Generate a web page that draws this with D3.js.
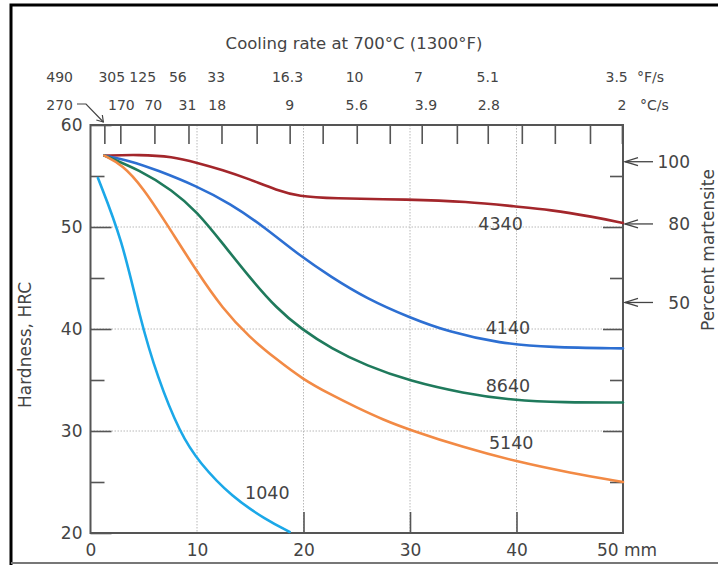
<!DOCTYPE html>
<html><head><meta charset="utf-8">
<script src="https://cdn.jsdelivr.net/npm/d3@7"></script>
<style>
html,body{margin:0;padding:0;background:#fff;}
svg text{font-family:"DejaVu Sans",sans-serif;fill:#444;}
</style></head>
<body><svg id="c" width="718" height="565"></svg>
<script>
// ---- data ----
const steels = ["4340","4140","8640","5140","1040"];
const d4340 = [[1.3,57.0],[4.6,57.1],[7.7,56.9],[10,56.3],[12.4,55.6],[14.9,54.7],[17.5,53.6],[19.6,53.0],[22.5,52.8],[30,52.7],[35.3,52.5],[40,52.0],[43.1,51.7],[47.2,51.0],[50,50.4]];
const d4140 = [[1.3,57.0],[3.7,56.5],[6.2,55.6],[10,54.0],[13.1,52.3],[16.2,50.1],[19.5,47.3],[22.6,45.1],[25.9,43.0],[30,41.1],[33.7,39.7],[38.4,38.6],[43.1,38.2],[50,38.1]];
const d8640 = [[1.3,57.0],[4.6,55.6],[7.7,53.6],[10,51.5],[12.4,48.4],[14.9,45.1],[17.5,42.0],[19.8,40.0],[22.6,38.1],[25.9,36.4],[30,34.9],[35,33.7],[39.7,33.0],[44.4,32.8],[50,32.8]];
const d5140 = [[1.3,57.0],[3.0,56.1],[4.9,53.9],[7.1,50.4],[10,45.6],[12.4,42.0],[14.9,39.2],[17.5,37.0],[19.9,35.1],[22.5,33.6],[25,32.3],[27.5,31.1],[30,30.1],[35,28.4],[40,27.0],[45,25.9],[50,25.0]];
const d1040 = [[0.7,54.8],[3.0,48.7],[4.6,41.2],[6.3,35.2],[8.4,29.8],[10.2,26.9],[13.3,23.5],[16.5,21.3],[18.7,20.1]];
const seriesData = [d4340,d4140,d8640,d5140,d1040];
const seriesColors = ["#a3262b","#2d6fd2","#1f7a5c","#f28a45","#1ba8e8"];
// label anchor points (mm, HRC)
const labelAt = [[38.5,49.7],[39.2,39.5],[39.2,33.8],[39.5,28.2],[16.6,23.3]];

const xTicks = [0,10,20,30,40];
const yTicks = [20,30,40,50,60];
const yMinor = [25,35,45,55];
const gridX = [10,20,30,40];
const gridY = [30,40,50];
const bottomTicks = [20,30,40];

// Jominy-position ticks (mm) on top edge
const jominyTicks = [1.3,2.8,6.0,9.2,12.3,15.6,18.7,21.8,25.0,28.1,31.1,34.4,37.3,40.5,43.6,46.9,49.9];
const cRates = ["170","70","31","18","9","5.6","3.9","2.8","2"];
const cDist  = [2.9,5.9,9.1,11.9,18.7,25.0,31.5,37.4,49.9];
const fRates = ["305","125","56","33","16.3","10","7","5.1","3.5"];
const fDist  = [2.0,4.9,8.2,11.8,18.5,24.8,30.8,37.3,49.4];
const endRateF = "490", endRateC = "270";

const martensite = ["100","80","50"];
const martensiteHRC = [56.4,50.3,42.6];

// ---- drawing ----
const svg = d3.select("#c");
const x = d3.scaleLinear().domain([0,50]).range([90.5,623]);
const y = d3.scaleLinear().domain([20,60]).range([533,125]);

// outer frame
svg.append("path").attr("d","M11,566 L11,5 L722,5").attr("fill","none").attr("stroke","#000").attr("stroke-width",3);
svg.append("line").attr("x1",11).attr("x2",722).attr("y1",563).attr("y2",563).attr("stroke","#777").attr("stroke-width",2);

// grid
const grid = svg.append("g").attr("stroke","#b8b8b8").attr("stroke-width",1).attr("stroke-dasharray","1.5,1.5");
gridY.forEach(v=>grid.append("line").attr("x1",x(0)).attr("x2",x(50)).attr("y1",y(v)).attr("y2",y(v)));
gridX.forEach(v=>grid.append("line").attr("x1",x(v)).attr("x2",x(v)).attr("y1",y(60)).attr("y2",y(20)));

function styleAxis(g, fs){
  g.select(".domain").remove();
  g.selectAll(".tick line").attr("stroke","#555").attr("stroke-width",1.6);
  g.selectAll(".tick text").attr("font-size",fs).attr("fill","#444").attr("font-family","DejaVu Sans");
}
// left axis
const gl = svg.append("g").attr("transform",`translate(${x(0)},0)`)
  .call(d3.axisLeft(y).tickValues(yTicks).tickSizeInner(-21).tickSizeOuter(0).tickPadding(8));
styleAxis(gl,17);
const glm = svg.append("g").attr("transform",`translate(${x(0)},0)`)
  .call(d3.axisLeft(y).tickValues(yMinor).tickSizeInner(-14).tickSizeOuter(0).tickFormat(""));
styleAxis(glm,17);
// right axis ticks
const gr = svg.append("g").attr("transform",`translate(${x(50)},0)`)
  .call(d3.axisRight(y).tickValues(gridY).tickSizeInner(-20).tickSizeOuter(0).tickFormat(""));
styleAxis(gr,17);
const grm = svg.append("g").attr("transform",`translate(${x(50)},0)`)
  .call(d3.axisRight(y).tickValues(yMinor).tickSizeInner(-13).tickSizeOuter(0).tickFormat(""));
styleAxis(grm,17);
// bottom
const gb = svg.append("g").attr("transform",`translate(0,${y(20)})`)
  .call(d3.axisBottom(x).tickValues(xTicks).tickSize(0).tickPadding(11));
styleAxis(gb,17);
const gbt = svg.append("g").attr("transform",`translate(0,${y(20)})`)
  .call(d3.axisBottom(x).tickValues(bottomTicks).tickSizeInner(-21).tickSizeOuter(0).tickFormat(""));
styleAxis(gbt,17);
svg.append("text").attr("x",x(50)-26).attr("y",y(20)+23).attr("font-size",17).text("50 mm");
// top ticks
const gt = svg.append("g").attr("transform",`translate(0,${y(60)})`)
  .call(d3.axisTop(x).tickValues(jominyTicks).tickSizeInner(-19).tickSizeOuter(0).tickFormat(""));
styleAxis(gt,14);

// plot box
svg.append("rect").attr("x",x(0)).attr("y",y(60)).attr("width",x(50)-x(0)).attr("height",y(20)-y(60))
  .attr("fill","none").attr("stroke","#555").attr("stroke-width",2);

// curves
const line = d3.line().x(d=>x(d[0])).y(d=>y(d[1])).curve(d3.curveBasis);
seriesData.forEach((d,i)=>{
  svg.append("path").attr("d",line(d)).attr("fill","none").attr("stroke",seriesColors[i])
    .attr("stroke-width",2.6).attr("stroke-linecap","round");
});
steels.forEach((s,i)=>{
  svg.append("text").attr("x",x(labelAt[i][0])).attr("y",y(labelAt[i][1])).attr("text-anchor","middle")
    .attr("font-size",17.5).attr("fill","#444").text(s);
});

// top scale
svg.append("text").attr("x",354).attr("y",49).attr("text-anchor","middle").attr("font-size",16.5).text("Cooling rate at 700°C (1300°F)");
fRates.forEach((t,i)=>svg.append("text").attr("x",x(fDist[i])).attr("y",82).attr("text-anchor","middle").attr("font-size",14).text(t));
cRates.forEach((t,i)=>svg.append("text").attr("x",x(cDist[i])).attr("y",110).attr("text-anchor","middle").attr("font-size",14).text(t));
svg.append("text").attr("x",73).attr("y",82).attr("text-anchor","end").attr("font-size",14).text(endRateF);
svg.append("text").attr("x",73).attr("y",110).attr("text-anchor","end").attr("font-size",14).text(endRateC);
svg.append("text").attr("x",637).attr("y",82).attr("font-size",14).text("°F/s");
svg.append("text").attr("x",640).attr("y",110).attr("font-size",14).text("°C/s");
// bent arrow from 270 to first tick
const ax0 = x(jominyTicks[0]);
svg.append("path").attr("d",`M77,104 L86,104 L${ax0-1},${y(60)-3}`).attr("fill","none").attr("stroke","#444").attr("stroke-width",1.2);
svg.append("path").attr("d",`M${ax0-8},${y(60)-5} L${ax0-1},${y(60)-3} L${ax0-2},${y(60)-10}`).attr("fill","none").attr("stroke","#444").attr("stroke-width",1.2);

// right martensite arrows
martensite.forEach((t,i)=>{
  const yy = y(martensiteHRC[i]);
  const tip = x(50)+2;
  svg.append("line").attr("x1",tip).attr("x2",653).attr("y1",yy).attr("y2",yy).attr("stroke","#444").attr("stroke-width",1.3);
  svg.append("path").attr("d",`M${tip+13},${yy-4} L${tip},${yy} L${tip+13},${yy+4}`).attr("fill","none").attr("stroke","#444").attr("stroke-width",1.3);
  svg.append("text").attr("x",690).attr("y",yy).attr("dy","0.36em").attr("text-anchor","end").attr("font-size",17).text(t);
});

// axis titles
svg.append("text").attr("transform","translate(31,345) rotate(-90)").attr("text-anchor","middle").attr("font-size",17).text("Hardness, HRC");
svg.append("text").attr("transform","translate(713.5,331) rotate(-90)").attr("font-size",17).text("Percent martensite");
</script></body></html>
